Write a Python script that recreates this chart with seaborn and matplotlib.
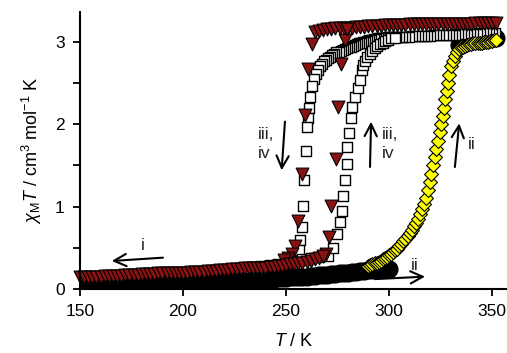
import matplotlib
matplotlib.use("Agg")
import matplotlib.pyplot as plt
import seaborn as sns
import pandas as pd

sns.set_theme(style="ticks")
plt.rcParams["font.family"] = ["Liberation Sans", "DejaVu Sans"]
plt.rcParams["mathtext.fontset"] = "custom"
plt.rcParams["mathtext.rm"] = "Liberation Sans"
plt.rcParams["mathtext.it"] = "Liberation Sans:italic"

# ---------------- data ----------------
# black circles (heating, low-spin branch, plus high-T end)
circ_T = [150, 152, 154, 156, 158, 160, 162, 164, 166, 168, 170, 172, 174, 176, 178, 180,
          182, 184, 186, 188, 190, 192, 194, 196, 198, 200, 202, 204, 206, 208, 210, 212,
          214, 216, 218, 220, 222, 224, 226, 228, 230, 232, 234, 236, 238, 240, 242, 244,
          246, 248, 250, 252, 254, 256, 258, 260, 262, 264, 266, 268, 270, 272, 274, 276,
          278, 280, 282, 284, 286, 288, 290, 292, 294, 296, 298, 300,
          334, 336, 338, 340, 342, 344, 346, 348, 350, 352]
circ_y = [0.055, 0.055, 0.056, 0.057, 0.058, 0.059, 0.06, 0.061, 0.062, 0.063, 0.064, 0.065, 0.066, 0.067, 0.068, 0.069,
          0.07, 0.071, 0.072, 0.073, 0.074, 0.075, 0.076, 0.077, 0.078, 0.08, 0.081, 0.082, 0.083, 0.085, 0.086, 0.088,
          0.089, 0.09, 0.092, 0.094, 0.095, 0.097, 0.099, 0.10, 0.10, 0.105, 0.11, 0.11, 0.115, 0.12, 0.12, 0.125,
          0.13, 0.13, 0.135, 0.14, 0.14, 0.145, 0.15, 0.15, 0.155, 0.16, 0.165, 0.17, 0.175, 0.18, 0.185, 0.19,
          0.195, 0.20, 0.205, 0.21, 0.215, 0.22, 0.225, 0.23, 0.235, 0.24, 0.24, 0.24,
          2.96, 2.98, 3.0, 3.01, 3.02, 3.03, 3.03, 3.04, 3.04, 3.05]

# dark red triangles (cycles iii/iv and cooling i)
tri_T = [264, 266, 268, 270, 272, 274, 276, 278, 280, 282, 284, 286, 288, 290, 292, 294,
         296, 298, 300, 302, 304, 306, 308, 310, 312, 314, 316, 318, 320, 322, 324, 326,
         328, 330, 332, 334, 336, 338, 340, 342, 344, 346, 348, 350, 352,
         262.5, 260.8, 259.2, 257.6, 256.0, 254.4, 252.7, 251.0, 249.0,
         269.2, 271.0, 271.8, 274.1, 275.4, 276.9, 278.6, 279.5,
         150, 152, 154, 156, 158, 160, 162, 164, 166, 168, 170, 172, 174, 176, 178, 180,
         182, 184, 186, 188, 190, 192, 194, 196, 198, 200, 202, 204, 206, 208, 210, 212,
         214, 216, 218, 220, 222, 224, 226, 228, 230, 232, 234, 236, 238, 240, 242, 244,
         246, 248, 250, 252, 254, 256, 258, 260, 262, 264, 266, 268]
tri_y = [3.12, 3.13, 3.14, 3.15, 3.15, 3.16, 3.16, 3.17, 3.17, 3.17, 3.18, 3.18, 3.18, 3.19, 3.19, 3.19,
         3.19, 3.20, 3.20, 3.20, 3.20, 3.20, 3.20, 3.21, 3.21, 3.21, 3.21, 3.21, 3.21, 3.21, 3.22, 3.22,
         3.22, 3.22, 3.22, 3.22, 3.22, 3.22, 3.22, 3.23, 3.23, 3.23, 3.23, 3.23, 3.23,
         2.97, 2.67, 2.11, 1.39, 0.82, 0.52, 0.43, 0.38, 0.35,
         0.43, 0.63, 1.01, 1.58, 2.21, 2.73, 3.02, 3.15,
         0.14, 0.14, 0.15, 0.15, 0.15, 0.15, 0.16, 0.16, 0.16, 0.16, 0.16, 0.17, 0.17, 0.17, 0.17, 0.18,
         0.18, 0.18, 0.18, 0.19, 0.19, 0.19, 0.19, 0.20, 0.20, 0.20, 0.20, 0.21, 0.21, 0.21, 0.21, 0.22,
         0.22, 0.22, 0.23, 0.23, 0.23, 0.24, 0.24, 0.24, 0.25, 0.25, 0.25, 0.26, 0.26, 0.26, 0.27, 0.27,
         0.28, 0.28, 0.29, 0.30, 0.30, 0.31, 0.32, 0.33, 0.34, 0.36, 0.38, 0.40]

# open squares (cycles iii/iv)
sq_T = [351.5, 350, 348.5, 347, 345.5, 344, 342.5, 341, 339.5, 338, 336.5, 335, 333.5, 332, 330.5,
        329, 327.5, 326, 324.5, 323, 321.5, 320, 318.5, 317, 315.5, 314, 312.5, 311, 309.5, 308,
        306.5, 305, 303.5, 302,
        300.5, 299.5, 298.5, 297.5, 296.5, 295.5, 294.5, 293.5, 292.5, 291.5, 290.5, 289.5, 288.5,
        287.5, 286.5, 285.5, 284.5, 283.5, 282.5, 281.5, 280.5, 279.5, 278.5, 277.5, 276.5, 275.5,
        274.5, 273.5, 272.5, 271.5, 270.5, 269.5, 268.5, 267.5, 266.5, 265.5, 264.5, 263.5, 262.5,
        261.7, 261.2, 260.8, 260.3, 259.7, 258.7, 258.4, 257.6, 257.0, 256.5,
        270.5, 273.0, 275.0, 276.2, 277.0, 277.8, 278.6, 279.4, 279.7, 280.6, 281.4, 282.2,
        283.5, 284.8, 285.9, 286.7, 287.5, 288.3, 289.5, 290.8, 292.0, 293.0, 294.2, 295.5,
        297.0, 298.0, 299.5, 301.0, 303.0,
        230, 234, 238, 242, 246, 250, 254, 258, 262, 266]
sq_y = [3.10, 3.10, 3.10, 3.10, 3.10, 3.10, 3.09, 3.09, 3.09, 3.09, 3.09, 3.09, 3.09, 3.08, 3.08,
        3.08, 3.08, 3.08, 3.08, 3.08, 3.08, 3.07, 3.07, 3.07, 3.07, 3.07, 3.07, 3.07, 3.06, 3.06,
        3.06, 3.06, 3.06, 3.06,
        3.06, 3.06, 3.05, 3.05, 3.05, 3.04, 3.04, 3.03, 3.03, 3.02, 3.02, 3.01, 3.00,
        3.00, 2.99, 2.98, 2.97, 2.96, 2.95, 2.94, 2.93, 2.92, 2.91, 2.90, 2.89, 2.88,
        2.87, 2.85, 2.84, 2.82, 2.80, 2.78, 2.76, 2.73, 2.70, 2.66, 2.61, 2.55, 2.46,
        2.33, 2.20, 2.08, 1.97, 1.67, 1.32, 1.01, 0.75, 0.59, 0.47,
        0.40, 0.50, 0.67, 0.81, 0.95, 1.13, 1.32, 1.52, 1.72, 1.89, 2.07, 2.21,
        2.33, 2.44, 2.54, 2.66, 2.72, 2.77, 2.81, 2.85, 2.89, 2.92, 2.95, 2.97,
        2.99, 3.01, 3.02, 3.04, 3.05,
        0.26, 0.27, 0.28, 0.29, 0.30, 0.32, 0.34, 0.36, 0.38, 0.39]

# yellow diamonds (heating ii)
dia_T = [290, 291, 292, 293, 294, 295, 296, 297, 298, 299, 300, 301, 302, 303, 304, 305,
         306, 307, 308, 309, 310, 311, 312, 313, 314, 315, 316, 317, 318,
         319.0, 319.8, 320.6, 321.4, 322.2, 323.0, 323.8, 324.6, 325.4, 326.1, 326.8, 327.4,
         328.0, 328.6, 329.3, 330.1, 331, 332, 333, 334, 335, 336, 337, 338, 339, 340,
         341, 342, 343, 344, 345, 346, 347, 348, 349, 350, 351, 352]
dia_y = [0.28, 0.29, 0.30, 0.31, 0.32, 0.33, 0.34, 0.36, 0.37, 0.39, 0.41, 0.43, 0.45, 0.47, 0.49, 0.52,
         0.55, 0.58, 0.61, 0.64, 0.68, 0.72, 0.76, 0.80, 0.85, 0.91, 0.97, 1.03, 1.10,
         1.20, 1.30, 1.40, 1.50, 1.60, 1.70, 1.80, 1.90, 2.00, 2.10, 2.20, 2.30,
         2.40, 2.50, 2.60, 2.70, 2.77, 2.83, 2.88, 2.91, 2.93, 2.94, 2.95, 2.96, 2.97, 2.97,
         2.98, 2.98, 2.99, 2.99, 2.99, 3.00, 3.00, 3.00, 3.01, 3.01, 3.02, 3.02]

x_ticks = [150, 200, 250, 300, 350]
y_ticks = [0, 1, 2, 3]

# ---------------- figure ----------------
W, H = 507, 353
fig = plt.figure(figsize=(W / 100, H / 100), dpi=100)
ax = fig.add_axes([80 / W, (H - 289) / H, (W - 80) / W, (289 - 12) / H])

df_c = pd.DataFrame({"T": circ_T, "y": circ_y})
df_t = pd.DataFrame({"T": tri_T, "y": tri_y})
df_s = pd.DataFrame({"T": sq_T, "y": sq_y})
df_d = pd.DataFrame({"T": dia_T, "y": dia_y})

sns.scatterplot(data=df_c, x="T", y="y", ax=ax, marker="o", s=150, color="black",
                edgecolor="black", linewidth=0.8, zorder=2)
sns.scatterplot(data=df_s, x="T", y="y", ax=ax, marker="s", s=55, color="white",
                edgecolor="black", linewidth=1.0, zorder=3, clip_on=False)
sns.scatterplot(data=df_d, x="T", y="y", ax=ax, marker="D", s=50, color="#FFFF00",
                edgecolor="black", linewidth=0.8, zorder=4, clip_on=False)
sns.scatterplot(data=df_t, x="T", y="y", ax=ax, marker="v", s=85, color="#8B1212",
                edgecolor="black", linewidth=0.8, zorder=5, clip_on=False)

ax.set_xlim(150, 357.3)
ax.set_ylim(0, 3.36)
ax.set_xticks(x_ticks)
ax.set_yticks(y_ticks)
ax.set_yticks([0.5, 1.5, 2.5], minor=True)
ax.tick_params(axis="both", which="major", direction="out", length=5, width=1.3,
               labelsize=12.5, color="black", labelcolor="black", pad=6)
ax.tick_params(axis="y", which="minor", direction="out", length=5, width=1.3, color="black")
for side in ["top", "right"]:
    ax.spines[side].set_visible(False)
for side in ["left", "bottom"]:
    ax.spines[side].set_linewidth(1.5)
    ax.spines[side].set_color("black")
    ax.spines[side].set_zorder(6)

ax.set_xlabel("$T$ / K", fontsize=13, color="black", labelpad=10)
ax.set_ylabel("$\\chi_{\\mathrm{M}}T$ / cm$^{3}$ mol$^{-1}$ K", fontsize=13, color="black", labelpad=8)

arrow_kw = dict(arrowstyle="->", lw=1.5, color="black", mutation_scale=22, shrinkA=0, shrinkB=0)
ax.annotate("", xy=(165.4, 0.34), xytext=(190.3, 0.38), arrowprops=arrow_kw)
ax.text(180.6, 0.53, "i", fontsize=12.5, ha="center", va="center")
ax.annotate("", xy=(317.5, 0.15), xytext=(293.2, 0.12), arrowprops=arrow_kw, zorder=6)
ax.text(312.3, 0.29, "ii", fontsize=12.5, ha="center", va="center", zorder=6)
ax.annotate("", xy=(334.1, 2.01), xytext=(332.0, 1.48), arrowprops=arrow_kw)
ax.text(340.1, 1.75, "ii", fontsize=12.5, ha="center", va="center")
ax.annotate("", xy=(247.9, 1.44), xytext=(249.5, 2.03), arrowprops=arrow_kw)
ax.text(236.4, 1.76, "iii,\niv", fontsize=12.5, ha="left", va="center", linespacing=1.3)
ax.annotate("", xy=(291.3, 2.03), xytext=(290.8, 1.48), arrowprops=arrow_kw)
ax.text(296.4, 1.76, "iii,\niv", fontsize=12.5, ha="left", va="center", linespacing=1.3)

fig.savefig("out.png", dpi=100, facecolor="white")
